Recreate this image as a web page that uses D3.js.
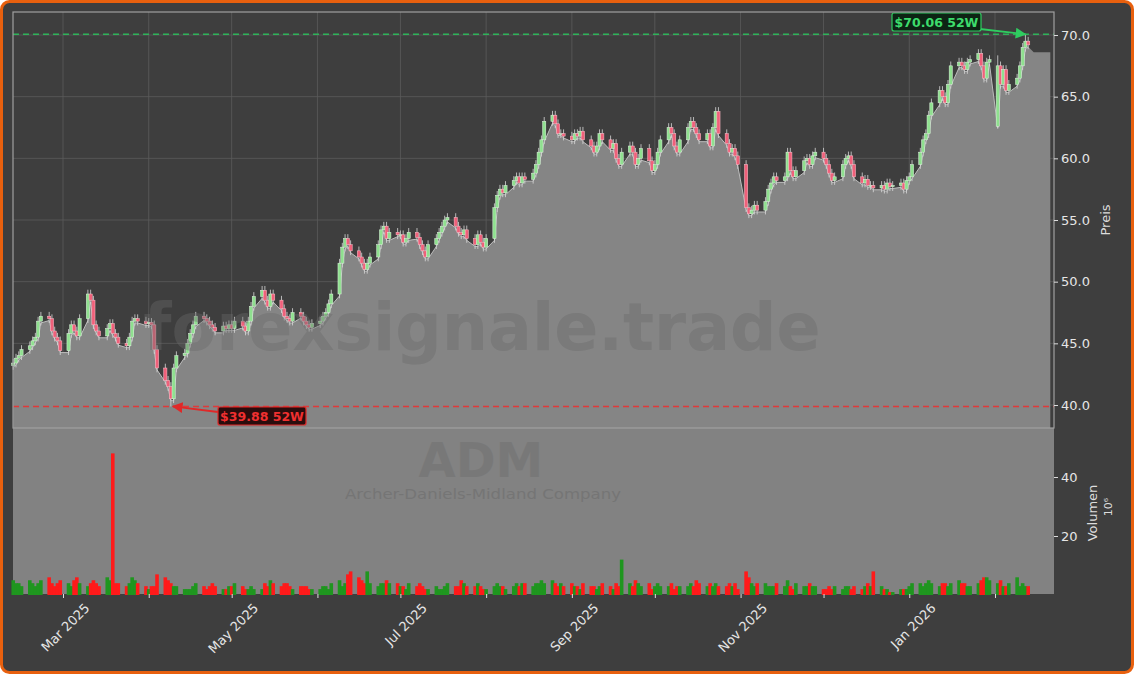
<!DOCTYPE html>
<html><head><meta charset="utf-8">
<script src="https://cdn.jsdelivr.net/npm/d3@7"></script>
<style>html,body{margin:0;padding:0;background:#fff;}svg{display:block;font-family:"DejaVu Sans",sans-serif;}</style>
</head><body><svg id="c" width="1134" height="674"></svg>
<script>
const startDate = "2025-02-11";
const closes = [
43.4,43.8,44.0,44.5,44.8,45.2,45.5,46.8,47.2,47.0,46.0,45.5,45.2,44.4,
45.8,46.5,46.0,45.6,47.0,49.0,48.5,46.5,46.0,45.6,46.2,46.6,45.8,45.5,45.0,44.8,45.5,46.8,47.0,46.8,46.6,
46.7,46.5,44.5,43.0,42.0,41.5,40.5,43.0,44.0,44.2,45.0,45.8,46.5,47.2,47.0,46.8,46.5,46.3,46.0,46.4,46.2,46.5,
46.2,46.8,46.4,46.0,46.8,48.0,48.8,49.3,48.5,48.0,49.0,48.5,47.8,47.2,47.0,46.8,47.5,47.2,46.8,46.5,46.3,46.6,
46.8,47.2,47.5,48.2,49.0,51.5,52.8,53.5,53.0,52.5,52.0,51.5,51.0,51.5,52.0,53.0,54.2,54.5,53.5,54.0,53.8,
53.8,53.2,53.5,54.0,53.6,53.0,52.5,52.0,53.0,53.5,54.0,54.5,55.0,55.2,54.5,54.0,53.8,54.2,53.5,53.0,53.8,53.2,52.8,
53.5,56.0,57.0,57.5,57.2,57.8,58.2,58.5,58.0,58.5,58.3,58.8,59.5,60.5,61.5,63.0,63.5,62.8,62.0,62.0,61.8,
61.5,62.0,61.8,62.2,61.5,61.0,60.5,61.0,62.0,61.5,60.8,61.2,60.0,59.5,60.5,61.0,60.5,59.5,60.0,60.8,59.8,59.0,
59.5,60.5,61.5,62.5,62.0,61.0,60.5,61.5,62.5,63.0,62.5,62.0,61.5,62.0,61.0,62.5,63.8,62.0,61.2,60.5,60.8,60.2,59.5,
56.0,55.5,55.8,56.2,55.8,56.5,57.5,58.0,58.5,58.2,58.5,60.5,59.0,58.5,59.0,59.8,60.0,59.5,60.2,60.5,
60.0,59.5,58.8,58.2,58.5,59.5,60.0,60.2,59.5,58.5,58.0,58.3,57.8,57.8,57.6,57.8,57.5,58.0,57.7,57.8,58.0,57.5,58.2,
58.5,59.5,60.5,61.5,62.0,63.5,64.5,65.5,65.0,64.5,66.0,67.5,67.8,67.5,67.2,67.8,68.0,68.5,67.5,66.5,67.8,68.0,
67.5,66.0,67.2,65.5,66.0,66.5,67.5,69.0,69.5,69.2];
const volumes = [
5,4,4,3,5,4,3,4,5,6,4,3,4,5,
4,3,5,6,4,3,4,5,4,3,6,5,48,4,4,3,4,6,5,4,3,
2,3,3,7,6,5,4,3,3,2,2,2,3,4,3,2,3,4,3,2,2,3,
3,4,3,2,2,3,2,2,4,3,5,4,3,4,4,3,2,3,3,3,2,2,
2,3,3,2,4,5,3,4,7,8,6,5,4,8,4,3,4,4,5,4,4,
3,3,2,4,3,4,3,2,2,3,2,2,3,4,3,3,5,4,3,3,4,3,2,
2,3,4,3,3,2,3,4,3,4,4,3,4,4,5,4,5,4,3,4,3,
4,3,3,2,4,3,3,2,3,4,3,2,4,3,12,4,3,5,4,3,4,2,
3,4,3,3,4,2,3,3,3,4,3,5,4,3,4,3,4,3,3,4,3,4,2,
8,6,4,3,4,4,3,3,3,4,3,5,3,2,4,3,3,4,3,3,
2,2,3,2,3,2,3,3,2,3,2,3,4,3,8,3,2,2,1,1,2,2,2,
3,4,4,3,4,5,4,3,4,4,3,4,5,4,4,3,3,4,5,6,6,5,
4,5,3,3,4,6,3,4,3,3];
const yTicks = [40,45,50,55,60,65,70];
const volTicks = [20,40];
const monthTicks = ["2025-03-01","2025-04-01","2025-05-01","2025-06-01","2025-07-01","2025-08-01","2025-09-01","2025-10-01","2025-11-01","2025-12-01","2026-01-01","2026-02-01"];
const monthLabels = ["Mar 2025","","May 2025","","Jul 2025","","Sep 2025","","Nov 2025","","Jan 2026",""];
const low52 = 39.88, high52 = 70.06;
const ticker = "ADM", company = "Archer-Daniels-Midland Company", watermark = "forexsignale.trade";

const dates = []; let d = new Date(startDate+"T00:00:00");
while (dates.length < closes.length) { const w = d.getDay(); if (w>0 && w<6) dates.push(new Date(d)); d = new Date(d.getTime()+86400000); }
const data = closes.map((c,i)=>{
  const o = i? closes[i-1] : c - 0.2;
  let h = Math.max(o,c)+0.35, l = Math.min(o,c)-0.35;
  return {date:dates[i], o, c, h, l, v:volumes[i]||3};
});
const iLow = d3.minIndex(data,e=>e.c); data[iLow].l = low52;
const iHigh = data.length-2; data[iHigh].h = high52;
data[data.length-10].l = 62.4; data[data.length-10].o = 62.6;

const svg = d3.select("#c");
const L=13,R=1054,PT=12,PB=428,VB=594;
const x = d3.scaleTime().domain([new Date("2025-03-01"),new Date("2026-02-01")]).range([63,995]);
const y = d3.scaleLinear().domain([40,70]).range([405,35]);
const yv = d3.scaleLinear().domain([0,40]).range([595,477]);

svg.append("rect").attr("x",1.5).attr("y",1.5).attr("width",1131).attr("height",671).attr("rx",8).attr("fill","#3e3e3e").attr("stroke","#e8600e").attr("stroke-width",3);
svg.append("rect").attr("x",L).attr("y",PT).attr("width",R-L).attr("height",PB-PT).attr("fill","#3e3e3e");
svg.append("rect").attr("x",L).attr("y",PB).attr("width",R-L).attr("height",VB-PB).attr("fill","#828282");

const gp = svg.append("g");
monthTicks.forEach(t=>gp.append("line").attr("x1",x(new Date(t))).attr("x2",x(new Date(t))).attr("y1",PT).attr("y2",PB).attr("stroke","#5c5c5c").attr("stroke-width",0.8));
yTicks.forEach(t=>gp.append("line").attr("x1",L).attr("x2",R).attr("y1",y(t)).attr("y2",y(t)).attr("stroke","#5c5c5c").attr("stroke-width",0.8));

const areaPts = data.map(e=>({date:e.date,val:Math.min(e.o,e.c)-0.15}));
const last = data[data.length-1];
areaPts.push({date:new Date(last.date.getTime()+2*86400000),val:68.6});
areaPts.push({date:new Date(last.date.getTime()+8*86400000),val:68.6});
gp.append("path").datum(areaPts).attr("fill","#858585")
 .attr("d",d3.area().x(e=>x(e.date)).y0(PB).y1(e=>y(e.val)));
gp.append("path").datum(areaPts.slice(0,-2)).attr("fill","none").attr("stroke","#bdbdbd").attr("stroke-width",1)
 .attr("d",d3.line().x(e=>x(e.date)).y(e=>y(e.val)));

svg.append("text").attr("x",482).attr("y",350).attr("text-anchor","middle").attr("font-size",65).attr("font-weight","bold").attr("fill","#6a6a6a").attr("opacity",0.4).text(watermark);

const cg = gp.append("g");
data.forEach(e=>{
  const cx = x(e.date), up = e.c>=e.o;
  cg.append("line").attr("x1",cx).attr("x2",cx).attr("y1",y(e.h)).attr("y2",y(e.l)).attr("stroke","#d8d8d8").attr("stroke-width",0.8);
  const top = y(Math.max(e.o,e.c)), bot = y(Math.min(e.o,e.c));
  cg.append("rect").attr("x",cx-1.6).attr("width",3.2).attr("y",top).attr("height",Math.max(1,bot-top))
    .attr("fill",up?"#8fe08f":"#f0607a").attr("stroke",up?"#dff5df":"#ffc0cc").attr("stroke-width",0.5);
});

gp.append("line").attr("x1",L).attr("x2",R).attr("y1",y(high52)).attr("y2",y(high52)).attr("stroke","#2fb35a").attr("stroke-width",1.5).attr("stroke-dasharray","6,4");
gp.append("line").attr("x1",L).attr("x2",R).attr("y1",y(low52)).attr("y2",y(low52)).attr("stroke","#e03a3a").attr("stroke-width",1.5).attr("stroke-dasharray","6,4");
const defs = svg.append("defs");
[["ag","#2fcc60"],["ar","#e02828"]].forEach(([id,c])=>defs.append("marker").attr("id",id).attr("viewBox","0 0 10 10").attr("refX",9).attr("refY",5).attr("markerWidth",6).attr("markerHeight",6).attr("orient","auto").append("path").attr("d","M0,0L10,5L0,10z").attr("fill",c));
const hx = x(data[iHigh].date), lx = x(data[iLow].date);
svg.append("line").attr("x1",980).attr("y1",29).attr("x2",hx).attr("y2",y(high52)).attr("stroke","#2fcc60").attr("stroke-width",1.8).attr("marker-end","url(#ag)");
svg.append("rect").attr("x",892).attr("y",13).attr("width",89).attr("height",18).attr("rx",2).attr("fill","#0d2414").attr("stroke","#2fcc60").attr("stroke-width",1.2);
svg.append("text").attr("x",936.5).attr("y",26.5).attr("text-anchor","middle").attr("font-size",12.5).attr("font-weight","bold").attr("fill","#3ddc6c").text("$"+high52.toFixed(2)+" 52W");
svg.append("line").attr("x1",218).attr("y1",412).attr("x2",lx+2).attr("y2",y(low52)).attr("stroke","#e02828").attr("stroke-width",1.8).attr("marker-end","url(#ar)");
svg.append("rect").attr("x",218).attr("y",407).attr("width",88).attr("height",18).attr("rx",2).attr("fill","#2a0d0d").attr("stroke","#e02828").attr("stroke-width",1.2);
svg.append("text").attr("x",262).attr("y",420.5).attr("text-anchor","middle").attr("font-size",12.5).attr("font-weight","bold").attr("fill","#f03030").text("$"+low52.toFixed(2)+" 52W");

svg.append("rect").attr("x",L).attr("y",PT).attr("width",R-L).attr("height",PB-PT).attr("fill","none").attr("stroke","#a0a0a0").attr("stroke-width",1.2);

svg.append("text").attr("x",481).attr("y",477).attr("text-anchor","middle").attr("font-size",48).attr("font-weight","bold").attr("fill","#737373").attr("opacity",0.6).text(ticker);
svg.append("text").attr("x",483).attr("y",499).attr("text-anchor","middle").attr("font-size",14).attr("textLength",276).attr("lengthAdjust","spacingAndGlyphs").attr("fill","#737373").attr("opacity",0.8).text(company);

const bw = 3.6;
svg.append("g").selectAll("rect").data(data).join("rect")
 .attr("x",e=>x(e.date)-bw/2).attr("width",bw).attr("y",e=>yv(e.v)).attr("height",e=>yv(0)-yv(e.v))
 .attr("fill",e=>e.c>=e.o?"#1f961f":"#ff1a1a");

const ay = svg.append("g").attr("transform",`translate(${R},0)`).call(d3.axisRight(y).tickValues(yTicks).tickFormat(d3.format(".1f")).tickSize(4));
const av = svg.append("g").attr("transform",`translate(${R},0)`).call(d3.axisRight(yv).tickValues(volTicks).tickSize(4));
const ax = svg.append("g").attr("transform",`translate(0,${VB})`).call(d3.axisBottom(x).tickValues(monthTicks.map(t=>new Date(t))).tickFormat((t,i)=>monthLabels[i]).tickSize(4));
[ay,av,ax].forEach(g=>{g.select(".domain").remove();g.selectAll("line").attr("stroke","#ddd");g.selectAll("text").attr("fill","#e6e6e6").attr("font-size",13).attr("font-family","DejaVu Sans");});
ax.selectAll("text").attr("text-anchor","end").attr("dy",0).attr("transform","translate(22,10) rotate(-45)");
svg.append("text").attr("transform","translate(1110,220) rotate(-90)").attr("text-anchor","middle").attr("font-size",13).attr("fill","#ddd").text("Preis");
svg.append("text").attr("transform","translate(1097,513) rotate(-90)").attr("text-anchor","middle").attr("font-size",13).attr("fill","#ddd").text("Volumen");
svg.append("text").attr("transform","translate(1112,507) rotate(-90)").attr("text-anchor","middle").attr("font-size",11).attr("fill","#ddd").text("10⁶");
</script></body></html>
